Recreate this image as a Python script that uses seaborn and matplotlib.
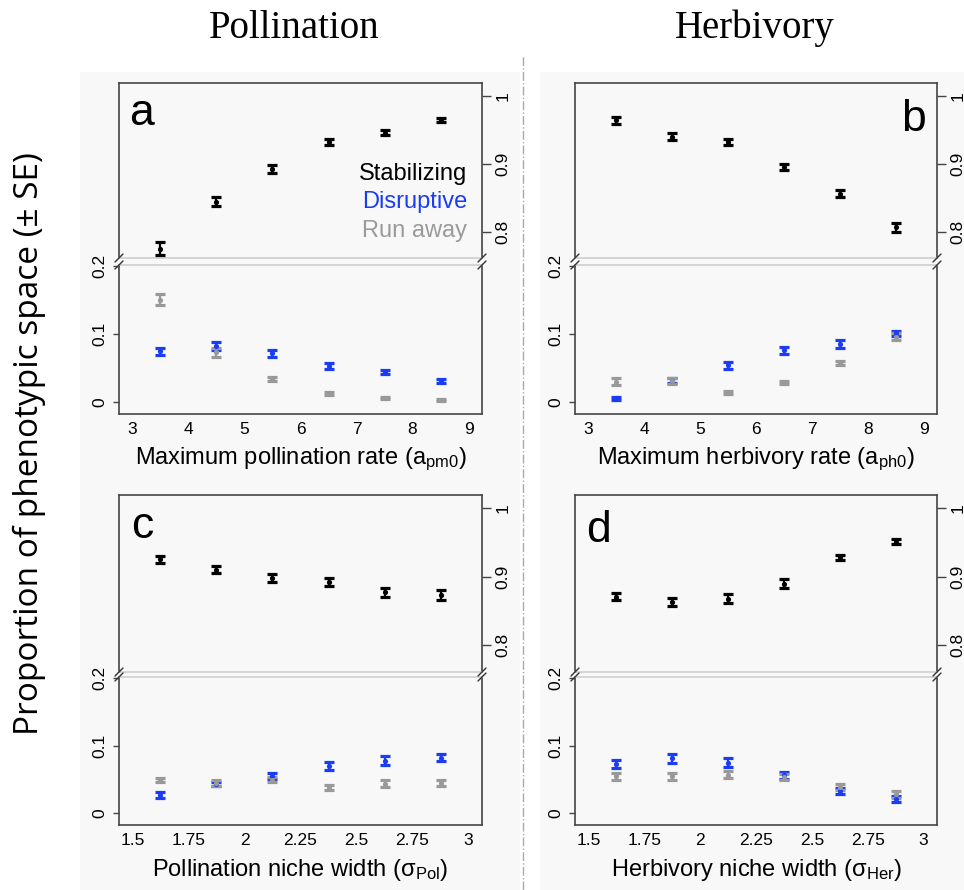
import numpy as np
import pandas as pd
import seaborn as sns
import matplotlib.pyplot as plt
from matplotlib.lines import Line2D
from matplotlib.patches import Rectangle

sns.set_style("white")
plt.rcParams['font.family'] = ['Liberation Sans', 'DejaVu Sans']
plt.rcParams['mathtext.default'] = 'regular'
plt.rcParams['text.color'] = 'black'
plt.rcParams['axes.labelcolor'] = 'black'
plt.rcParams['xtick.color'] = 'black'
plt.rcParams['ytick.color'] = 'black'

# x positions
rate_x = [3.5, 4.5, 5.5, 6.5, 7.5, 8.5]
width_x = [1.625, 1.875, 2.125, 2.375, 2.625, 2.875]

# a: maximum pollination rate
a_stab = [0.775, 0.844, 0.892, 0.932, 0.946, 0.964]
a_stab_se = [0.009, 0.007, 0.006, 0.004, 0.003, 0.003]
a_disr = [0.075, 0.083, 0.072, 0.053, 0.045, 0.031]
a_disr_se = [0.005, 0.006, 0.005, 0.004, 0.003, 0.003]
a_run = [0.150, 0.073, 0.034, 0.013, 0.007, 0.004]
a_run_se = [0.008, 0.006, 0.003, 0.002, 0.0015, 0.0015]

# b: maximum herbivory rate
b_stab = [0.964, 0.940, 0.932, 0.895, 0.856, 0.806]
b_stab_se = [0.005, 0.005, 0.004, 0.005, 0.005, 0.006]
b_disr = [0.006, 0.032, 0.054, 0.076, 0.085, 0.101]
b_disr_se = [0.002, 0.004, 0.005, 0.005, 0.006, 0.004]
b_run = [0.030, 0.031, 0.014, 0.029, 0.057, 0.096]
b_run_se = [0.005, 0.004, 0.002, 0.002, 0.003, 0.005]

# c: pollination niche width
c_stab = [0.925, 0.910, 0.898, 0.892, 0.877, 0.873]
c_stab_se = [0.005, 0.005, 0.006, 0.006, 0.007, 0.007]
c_disr = [0.027, 0.044, 0.055, 0.070, 0.078, 0.082]
c_disr_se = [0.004, 0.003, 0.004, 0.006, 0.006, 0.005]
c_run = [0.049, 0.045, 0.050, 0.038, 0.044, 0.045]
c_run_se = [0.003, 0.004, 0.004, 0.004, 0.005, 0.005]

# d: herbivory niche width
d_stab = [0.871, 0.863, 0.868, 0.890, 0.928, 0.951]
d_stab_se = [0.005, 0.006, 0.006, 0.006, 0.004, 0.004]
d_disr = [0.073, 0.081, 0.075, 0.056, 0.033, 0.021]
d_disr_se = [0.006, 0.006, 0.006, 0.005, 0.004, 0.004]
d_run = [0.055, 0.055, 0.057, 0.054, 0.039, 0.028]
d_run_se = [0.005, 0.005, 0.005, 0.004, 0.005, 0.005]

rate_ticks = [3, 4, 5, 6, 7, 8, 9]
rate_ticklabels = ['3', '4', '5', '6', '7', '8', '9']
width_ticks = [1.5, 1.75, 2, 2.25, 2.5, 2.75, 3]
width_ticklabels = ['1.5', '1.75', '2', '2.25', '2.5', '2.75', '3']

types = ['Stabilizing', 'Disruptive', 'Run away']
colors = {'Stabilizing': 'black', 'Disruptive': '#1a3cf5', 'Run away': '#999999'}

W, H = 964, 890
fig = plt.figure(figsize=(W / 100, H / 100), dpi=100)
fig.patch.set_facecolor('white')
bg = '#f8f8f8'
fig.add_artist(Rectangle((80 / W, 0), 440 / W, 1 - 72 / H, transform=fig.transFigure,
                         facecolor=bg, edgecolor='none', zorder=-5))
fig.add_artist(Rectangle((540 / W, 0), 424 / W, 1 - 72 / H, transform=fig.transFigure,
                         facecolor=bg, edgecolor='none', zorder=-5))

spine_col = '#444444'


def px_axes(x0, x1, ytop, ybot):
    return fig.add_axes([x0 / W, 1 - ybot / H, (x1 - x0) / W, (ybot - ytop) / H])


def draw_series(ax, x, y, se, name):
    df = pd.DataFrame({'x': x, 'y': y, 'se': se, 'type': name})
    ax.errorbar(df['x'], df['y'], yerr=df['se'], fmt='none', ecolor=colors[name],
                elinewidth=1.6, capsize=3.5, capthick=2.3, zorder=3)
    sns.scatterplot(data=df, x='x', y='y', color=colors[name], s=14, linewidth=0,
                    ax=ax, legend=False, zorder=4)


def panel(x0, x1, rows, x, stab, stab_se, disr, disr_se, run, run_se,
          xlim, xticks, xticklabels, xlabel, letter, letter_xy):
    ytop, ymid1, ymid2, ybot = rows
    ax_t = px_axes(x0, x1, ytop, ymid1)
    ax_b = px_axes(x0, x1, ymid2, ybot)
    for ax in (ax_t, ax_b):
        ax.set_facecolor('none')
        ax.set_xlim(*xlim)
        for s in ax.spines.values():
            s.set_color(spine_col)
            s.set_linewidth(1.2)
    ax_t.spines['bottom'].set_color('#cfcfcf')
    ax_b.spines['top'].set_color('#cfcfcf')

    draw_series(ax_t, x, stab, stab_se, 'Stabilizing')
    draw_series(ax_b, x, disr, disr_se, 'Disruptive')
    draw_series(ax_b, x, run, run_se, 'Run away')

    ax_t.set_ylim(0.761, 1.019)
    ax_t.set_yticks([0.8, 0.9, 1.0])
    ax_t.set_yticklabels(['0.8', '0.9', '1'])
    ax_t.yaxis.tick_right()
    ax_t.tick_params(axis='y', which='both', right=True, left=False, direction='out',
                     length=6.5, width=1, color=spine_col, pad=3, labelsize=12.5,
                     labelrotation=90)
    for lab in ax_t.get_yticklabels():
        lab.set_va('center')
    ax_t.set_xticks([])
    ax_t.set_xlabel('')
    ax_t.set_ylabel('')

    ax_b.set_ylim(-0.017, 0.201)
    ax_b.set_yticks([0, 0.1, 0.2])
    ax_b.set_yticklabels(['0', '0.1', '0.2'])
    ax_b.tick_params(axis='y', which='both', left=True, direction='out', length=4.5,
                     width=1, color=spine_col, pad=4, labelsize=12.5, labelrotation=90)
    for lab in ax_b.get_yticklabels():
        lab.set_va('center')
    ax_b.set_xticks(xticks)
    ax_b.set_xticklabels(xticklabels)
    ax_b.tick_params(axis='x', length=0, pad=6, labelsize=12.5)
    ax_b.set_xlabel(xlabel, fontsize=17, labelpad=6)
    ax_b.set_ylabel('')

    ax_t.text(letter_xy[0], letter_xy[1], letter, transform=ax_t.transAxes,
              fontsize=32, ha='center', va='baseline')

    # axis break marks
    for xx in (x0, x1):
        for yy in (ymid1, ymid2):
            fig.add_artist(Line2D([(xx - 4) / W, (xx + 4) / W],
                                  [1 - (yy + 4) / H, 1 - (yy - 4) / H],
                                  transform=fig.transFigure, color='#333333', lw=1))
    return ax_t, ax_b


row1 = (83, 258, 265, 414)
row2 = (495, 672, 677, 825)
left_x = (119, 482)
right_x = (575, 937)

ax_a, _ = panel(*left_x, row1, rate_x, a_stab, a_stab_se, a_disr, a_disr_se, a_run, a_run_se,
                (2.76, 9.24), rate_ticks, rate_ticklabels,
                r'Maximum pollination rate (a$_{pm0}$)', 'a', (0.063, 0.76))
panel(*right_x, row1, rate_x, b_stab, b_stab_se, b_disr, b_disr_se, b_run, b_run_se,
      (2.76, 9.24), rate_ticks, rate_ticklabels,
      r'Maximum herbivory rate (a$_{ph0}$)', 'b', (0.934, 0.727))
panel(*left_x, row2, width_x, c_stab, c_stab_se, c_disr, c_disr_se, c_run, c_run_se,
      (1.44, 3.06), width_ticks, width_ticklabels,
      r'Pollination niche width ($\sigma_{Pol}$)', 'c', (0.063, 0.755))
panel(*right_x, row2, width_x, d_stab, d_stab_se, d_disr, d_disr_se, d_run, d_run_se,
      (1.44, 3.06), width_ticks, width_ticklabels,
      r'Herbivory niche width ($\sigma_{Her}$)', 'd', (0.064, 0.736))

# legend text in panel a
for name, yy in zip(types, [0.446, 0.284, 0.122]):
    ax_a.text(0.959, yy, name, transform=ax_a.transAxes, ha='right', va='baseline',
              fontsize=17, color=colors[name] if name != 'Run away' else '#9a9a9a')

# column titles
fig.text(294 / W, 1 - 38 / H, 'Pollination', fontsize=28, ha='center', va='baseline',
         family=['Liberation Serif', 'DejaVu Serif'])
fig.text(755 / W, 1 - 38 / H, 'Herbivory', fontsize=28, ha='center', va='baseline',
         family=['Liberation Serif', 'DejaVu Serif'])

# shared y label
fig.text(29 / W, 1 - 444 / H, 'Proportion of phenotypic space (± SE)', rotation=90,
         fontsize=24, ha='center', va='center', family=['Open Sans', 'DejaVu Sans'])

# dash-dot separator between columns
fig.add_artist(Line2D([523 / W, 523 / W], [0, 1 - 55 / H], transform=fig.transFigure,
                      color='#aaaaaa', lw=1, linestyle='-.'))

fig.savefig('out.png', dpi=100)
